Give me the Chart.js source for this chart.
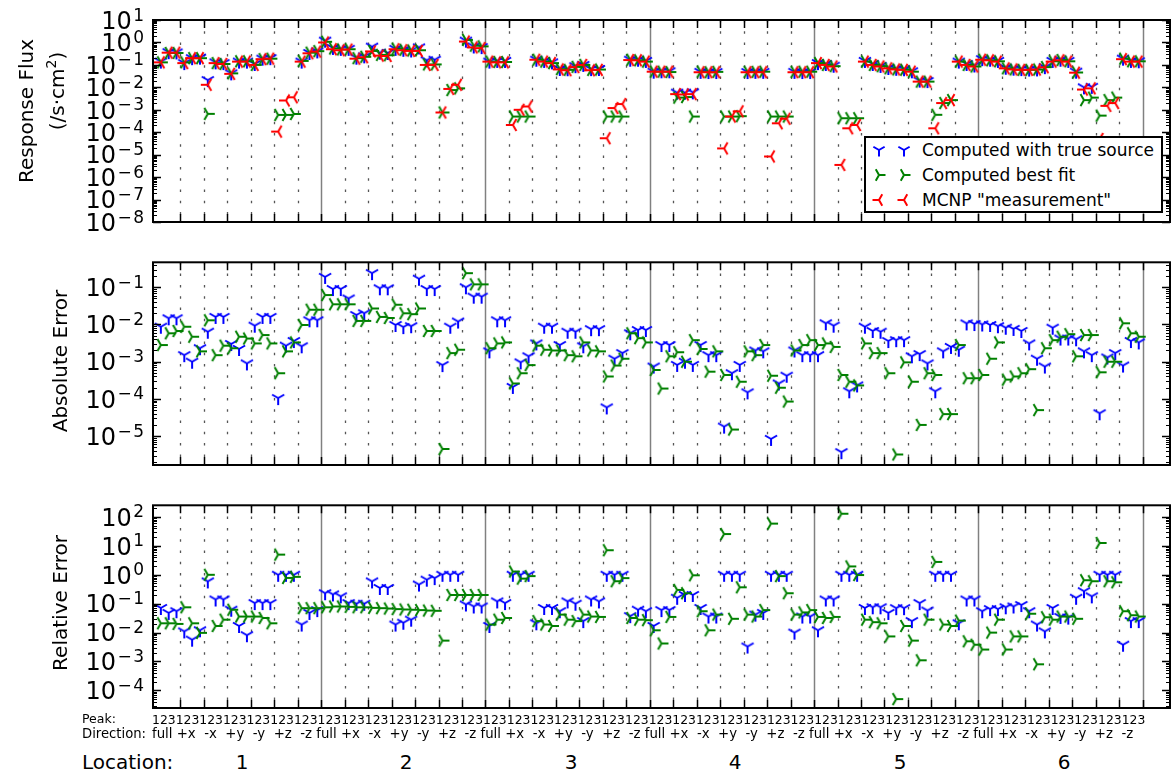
<!DOCTYPE html>
<html>
<head>
<meta charset="utf-8">
<script src="https://cdn.jsdelivr.net/npm/chart.js@4.4.1/dist/chart.umd.min.js"></script>
<style>
  html, body { margin: 0; padding: 0; background: #fff; }
  body { width: 1174px; height: 772px; overflow: hidden; position: relative; font-family: 'DejaVu Sans', sans-serif; color: #000; }
  canvas.panel { position: absolute; left: 0; }
  .txt { position: absolute; white-space: pre; line-height: 1; }
  .ytitle { position: absolute; white-space: nowrap; font-size: 20px; line-height: 1; transform: translate(-50%, -50%) rotate(-90deg); }
  .ytitle sup { font-size: 14px; vertical-align: 8px; line-height: 0; }
  #legend { position: absolute; left: 864px; top: 136px; width: 299px; height: 77px; box-sizing: border-box; border: 2px solid #000; background: #fff; }
  .leg-row { position: absolute; left: 0; width: 100%; height: 20px; }
  .leg-row canvas { position: absolute; top: 1px; }
  .leg-row span { position: absolute; left: 56px; top: 0; font-size: 17px; line-height: 20px; white-space: nowrap; }
</style>
</head>
<body>
<canvas class="panel" id="fluxChart" width="1176" height="240" style="top:0px"></canvas>
<canvas class="panel" id="absChart" width="1176" height="245" style="top:240px"></canvas>
<canvas class="panel" id="relChart" width="1176" height="235" style="top:485px"></canvas>

<div class="ytitle" style="left:26px; top:111px">Response Flux</div>
<div class="ytitle" style="left:57px; top:91px">(/s·cm<sup>2</sup>)</div>
<div class="ytitle" style="left:60px; top:361px">Absolute Error</div>
<div class="ytitle" style="left:60px; top:603px">Relative Error</div>

<div id="legend"></div>

<div class="txt" style="left:82px; top:713px; font-size:12.5px">Peak:</div>
<div class="txt" id="peakRow" style="left:152px; top:714px; font-size:12.4px"></div>
<div class="txt" style="left:82px; top:727px; font-size:13.2px">Direction:</div>
<div class="txt" id="dirRow" style="left:152px; top:727px; font-size:13.3px"></div>
<div class="txt" style="left:82px; top:752px; font-size:20px">Location:</div>
<div id="locRow"></div>

<script>
// categories
const locations = ['1', '2', '3', '4', '5', '6'];
const directions = ['full', '+x', '-x', '+y', '-y', '+z', '-z'];
const peaks = ['1', '2', '3'];

// tick values of the three log axes
const fluxTicks = [1e-8, 1e-7, 1e-6, 1e-5, 1e-4, 1e-3, 1e-2, 1e-1, 1e0, 1e1];
const absTicks = [1e-5, 1e-4, 1e-3, 1e-2, 1e-1];
const relTicks = [1e-4, 1e-3, 1e-2, 1e-1, 1e0, 1e1, 1e2];

// Response flux, one row per location (7 directions x 3 peaks)
const fluxTrue = [
  0.14, 0.37, 0.36, 0.12, 0.2, 0.21, 0.021, 0.13, 0.12, 0.042, 0.14, 0.14, 0.11, 0.19, 0.2, null, null, null, 0.14, 0.34, 0.4,
  1.2, 0.57, 0.52, 0.52, 0.21, 0.24, 0.65, 0.35, 0.34, 0.52, 0.47, 0.44, 0.6, 0.16, 0.17, null, null, null, 1.2, 0.66, 0.62,
  0.14, 0.15, 0.15, null, null, null, 0.17, 0.15, 0.13, 0.066, 0.064, 0.088, 0.1, 0.065, 0.066, null, null, null, 0.17, 0.17, 0.15,
  0.05, 0.052, 0.052, 5.8e-3, 5.8e-3, 6e-3, 0.049, 0.048, 0.048, null, null, null, 0.048, 0.049, 0.049, null, null, null, 0.049, 0.048, 0.048,
  0.12, 0.11, 0.092, null, null, null, 0.15, 0.11, 0.09, 0.073, 0.067, 0.064, 0.052, 0.02, 0.019, null, null, null, 0.14, 0.11, 0.094,
  0.18, 0.17, 0.15, 0.075, 0.068, 0.065, 0.062, 0.063, 0.079, 0.15, 0.17, 0.15, 0.05, 0.01, 0.0105, null, null, null, 0.19, 0.15, 0.145
];
const fluxFit = [
  0.13, 0.34, 0.34, 0.13, 0.2, 0.2, 6.6e-4, 0.12, 0.11, 0.042, 0.145, 0.145, 0.1, 0.18, 0.19, 5.9e-4, 5.9e-4, 6.5e-4, 0.15, 0.35, 0.41,
  1.07, 0.54, 0.49, 0.5, 0.2, 0.23, 0.42, 0.28, 0.27, 0.53, 0.47, 0.44, 0.45, 0.105, 0.105, 7.6e-4, 7.6e-3, 9e-3, 1.3, 0.72, 0.67,
  0.14, 0.135, 0.135, 5e-4, 5e-4, 5e-4, 0.17, 0.14, 0.12, 0.065, 0.06, 0.082, 0.1, 0.06, 0.062, 5e-4, 5e-4, 5e-4, 0.17, 0.16, 0.14,
  0.05, 0.05, 0.048, 3.5e-3, 3.7e-3, 5e-4, 0.05, 0.047, 0.049, 5e-4, 5e-4, 5.2e-4, 0.049, 0.049, 0.05, 5e-4, 5e-4, 5e-4, 0.049, 0.05, 0.05,
  0.12, 0.1, 0.088, 4.2e-4, 4.2e-4, 4.2e-4, 0.14, 0.1, 0.087, 0.07, 0.063, 0.061, 0.05, 0.018, 0.018, 6e-4, 2e-3, 2.7e-3, 0.14, 0.1, 0.085,
  0.17, 0.16, 0.145, 0.07, 0.063, 0.06, 0.06, 0.062, 0.08, 0.145, 0.165, 0.145, 0.046, 2.7e-3, 3.5e-3, 5.5e-4, 2.7e-3, 3.5e-3, 0.19, 0.145, 0.145
];
const fluxMcnp = [
  0.13, 0.35, 0.35, 0.12, 0.2, 0.2, 0.013, 0.12, 0.11, 0.04, 0.14, 0.14, 0.1, 0.18, 0.19, 1.07e-4, 2.6e-3, 3.6e-3, 0.14, 0.33, 0.39,
  1.0, 0.5, 0.45, 0.48, 0.19, 0.22, 0.4, 0.26, 0.25, 0.5, 0.45, 0.42, 0.42, 0.1, 0.1, 7.6e-4, 8.5e-3, 0.013, 1.1, 0.6, 0.56,
  0.14, 0.13, 0.13, 2.1e-4, 1e-3, 1.4e-3, 0.17, 0.14, 0.12, 0.063, 0.058, 0.08, 0.1, 0.058, 0.06, 5.4e-5, 1.2e-3, 1.8e-3, 0.165, 0.16, 0.14,
  0.05, 0.05, 0.05, 5e-3, 4.8e-3, 5e-3, 0.047, 0.047, 0.047, 1.9e-5, 5e-4, 8.5e-4, 0.047, 0.047, 0.047, 8.3e-6, 2.5e-4, 4e-4, 0.047, 0.047, 0.047,
  0.12, 0.1, 0.085, 3.5e-6, 1.5e-4, 2.1e-4, 0.14, 0.1, 0.085, 0.07, 0.063, 0.06, 0.05, 0.018, 0.018, 1.5e-4, 2e-3, 2.7e-3, 0.14, 0.1, 0.085,
  0.17, 0.16, 0.14, 0.07, 0.063, 0.06, 0.06, 0.062, 0.078, 0.14, 0.16, 0.14, 0.045, 8e-3, 9e-3, 5e-5, 1.5e-3, 2e-3, 0.18, 0.14, 0.14
];

// Absolute error
const absTrue = [
  8.7e-3, 0.0147, 0.0147, 1.5e-3, 1.0e-3, 2.3e-3, 6.4e-3, 0.016, 0.016, 3e-3, 2.2e-3, 9e-4, 9.3e-3, 0.016, 0.016, 1.05e-4, 2.7e-3, 3.6e-3, 2.6e-3, 0.013, 0.013,
  0.19, 0.09, 0.09, 0.05, 0.018, 0.02, 0.24, 0.094, 0.094, 9.7e-3, 8.5e-3, 9e-3, 0.17, 0.09, 0.09, 8.1e-4, 8.7e-3, 0.012, 0.1, 0.056, 0.056,
  1.9e-3, 0.013, 0.013, 2.1e-4, 9.6e-4, 1.4e-3, 3.1e-3, 8.7e-3, 8.7e-3, 2.8e-3, 6.4e-3, 6.4e-3, 2.6e-3, 7.5e-3, 7.5e-3, 5.9e-5, 1.2e-3, 1.7e-3, 5.8e-3, 7.1e-3, 7.1e-3,
  7.4e-4, 2.8e-3, 2.8e-3, 8.2e-4, 1e-3, 8.2e-4, 2.8e-3, 1.5e-3, 1.5e-3, 1.8e-5, 4.9e-4, 8.2e-4, 1.5e-4, 2e-3, 1.9e-3, 8.4e-6, 2.6e-4, 4.2e-4, 2e-3, 1.5e-3, 1.5e-3,
  1.5e-3, 0.0108, 9.3e-3, 3.7e-6, 1.6e-4, 2.3e-4, 8.7e-3, 6.7e-3, 6.4e-3, 3.6e-3, 3.8e-3, 3.8e-3, 1.4e-3, 1.6e-3, 9e-4, 1.6e-4, 1.9e-3, 2.5e-3, 2.1e-3, 0.0107, 0.0103,
  0.01, 9.7e-3, 9e-3, 8.2e-3, 7.6e-3, 6.7e-3, 3.1e-3, 1.2e-3, 7.4e-4, 8.2e-3, 4.2e-3, 4.2e-3, 4e-3, 1.9e-3, 1.5e-3, 4.1e-5, 1.3e-3, 1.7e-3, 7.9e-4, 3.6e-3, 3.3e-3
];
const absFit = [
  2.8e-3, 5.8e-3, 6.7e-3, 8.7e-3, 4.7e-3, 1.9e-3, 0.013, 1.5e-3, 2.7e-3, 2.3e-3, 4.7e-3, 4.2e-3, 3.1e-3, 5.2e-3, 3.1e-3, 4.9e-4, 1.9e-3, 3.3e-3, 9.7e-3, 0.025, 0.025,
  0.062, 0.035, 0.035, 0.035, 0.0125, 0.0125, 0.027, 0.016, 0.015, 0.034, 0.02, 0.019, 0.027, 6.7e-3, 6.7e-3, 4.5e-6, 1.7e-3, 2.1e-3, 0.24, 0.12, 0.12,
  2.3e-3, 3.1e-3, 3.3e-3, 2.6e-4, 4.9e-4, 8.1e-4, 2.7e-3, 2.1e-3, 2e-3, 2e-3, 1.5e-3, 1.4e-3, 3.3e-3, 2e-3, 1.9e-3, 4e-4, 7.9e-4, 1.2e-3, 5.8e-3, 4.3e-3, 3.3e-3,
  6e-4, 1.9e-4, 1.4e-3, 1.8e-3, 1e-3, 3.8e-3, 2.2e-3, 5.4e-4, 1.9e-3, 4.4e-4, 1.5e-5, 2.9e-4, 1.9e-3, 1.5e-3, 2.8e-3, 4.2e-4, 2e-4, 8.5e-5, 2e-3, 2.8e-3, 3.8e-3,
  2.8e-3, 3.1e-3, 2.5e-3, 4.4e-4, 2.9e-4, 2.3e-4, 3.1e-3, 1.7e-3, 1.7e-3, 4.9e-4, 3.2e-6, 9.6e-4, 2.9e-4, 2e-5, 4.9e-4, 4.4e-4, 3.9e-5, 3.9e-5, 2.8e-3, 3.6e-4, 3.6e-4,
  4.4e-4, 1.2e-3, 3.3e-3, 3.3e-4, 4e-4, 4.9e-4, 6.3e-4, 5e-5, 2.3e-3, 3.8e-3, 4.7e-3, 5.5e-3, 1.4e-3, 5.2e-3, 5.2e-3, 5.2e-4, 1e-3, 1e-3, 0.0108, 5.8e-3, 4.7e-3
];

// Relative error
const relTrue = [
  0.071, 0.048, 0.055, 0.011, 5.7e-3, 0.012, 0.59, 0.14, 0.14, 0.062, 0.017, 8.1e-3, 0.105, 0.105, 0.105, 1, 1, 1, 0.019, 0.048, 0.06,
  0.23, 0.21, 0.18, 0.105, 0.1, 0.1, 0.59, 0.35, 0.35, 0.019, 0.022, 0.028, 0.46, 0.68, 0.77, 1, 1, 1, 0.094, 0.08, 0.08,
  0.017, 0.12, 0.105, 1, 1, 1, 0.021, 0.071, 0.071, 0.055, 0.12, 0.1, 0.025, 0.14, 0.12, 1, 1, 1, 0.037, 0.062, 0.055,
  0.017, 0.06, 0.06, 0.16, 0.2, 0.2, 0.071, 0.036, 0.036, 1, 1, 1, 3.3e-3, 0.042, 0.048, 1, 1, 1, 0.01, 0.036, 0.036,
  0.012, 0.14, 0.14, 1, 1, 1, 0.071, 0.075, 0.075, 0.048, 0.07, 0.07, 0.025, 0.105, 0.058, 1, 1, 1, 0.021, 0.14, 0.14,
  0.055, 0.065, 0.065, 0.075, 0.08, 0.09, 0.055, 0.019, 0.011, 0.071, 0.035, 0.033, 0.16, 0.27, 0.18, 1, 1, 1, 3.8e-3, 0.025, 0.025
];
const relFit = [
  0.021, 0.021, 0.02, 0.075, 0.021, 9.8e-3, 1.0, 0.017, 0.028, 0.062, 0.036, 0.036, 0.036, 0.032, 0.021, 5.0, 0.78, 0.85, 0.07, 0.07, 0.07,
  0.075, 0.08, 0.08, 0.078, 0.075, 0.075, 0.072, 0.07, 0.068, 0.065, 0.063, 0.062, 0.06, 0.058, 0.057, 5.3e-3, 0.2, 0.2, 0.2, 0.2, 0.2,
  0.019, 0.028, 0.032, 1.3, 0.74, 0.9, 0.025, 0.019, 0.017, 0.042, 0.028, 0.025, 0.042, 0.036, 0.035, 7.1, 0.6, 0.77, 0.032, 0.028, 0.027,
  0.012, 4.2e-3, 0.035, 0.3, 0.23, 0.96, 0.055, 0.012, 0.042, 25.7, 0.03, 0.37, 0.042, 0.036, 0.06, 59, 0.9, 0.23, 0.042, 0.05, 0.06,
  0.035, 0.032, 0.035, 130, 1.95, 0.98, 0.028, 0.023, 0.021, 7.4e-3, 5e-5, 0.017, 5.3e-3, 1.1e-3, 0.028, 2.8, 0.019, 0.017, 0.026, 5e-3, 3.8e-3,
  2.6e-3, 0.01, 0.028, 2.6e-3, 7.4e-3, 7.4e-3, 0.045, 8e-4, 0.034, 0.028, 0.036, 0.036, 0.03, 0.65, 0.6, 12.6, 0.6, 0.55, 0.055, 0.04, 0.036
];

const BLUE = '#0000ff', GREEN = '#008000', RED = '#ff0000';
const nPerLoc = directions.length * peaks.length;
const nCat = locations.length * nPerLoc;

// matplotlib-like tri markers drawn once on small canvases
function triMarker(dir, color, r) {
  const s = 20;
  const c = document.createElement('canvas');
  c.width = s; c.height = s;
  const g = c.getContext('2d');
  g.strokeStyle = color;
  g.lineWidth = 2;
  const arms = { down: [90, 210, 330], right: [0, 120, 240], left: [180, 300, 60] }[dir];
  g.beginPath();
  arms.forEach(function (a) {
    const t = a * Math.PI / 180;
    g.moveTo(s / 2, s / 2);
    g.lineTo(s / 2 + r * Math.cos(t), s / 2 + r * Math.sin(t));
  });
  g.stroke();
  return c;
}
const markTrue = triMarker('down', BLUE, 7);
const markFit = triMarker('right', GREEN, 7);
const markMcnp = triMarker('left', RED, 7);

function series(label, values, marker, order) {
  return {
    label: label,
    data: values.map(function (v, i) { return { x: i, y: v }; }),
    pointStyle: marker,
    pointRadius: 5,
    order: order
  };
}

// dotted direction lines, solid location lines, inward ticks, frame and 10^n labels
const panelDecor = {
  id: 'panelDecor',
  beforeDatasetsDraw(chart) {
    const ctx = chart.ctx, a = chart.chartArea, x = chart.scales.x;
    ctx.save();
    for (let k = 1; k <= nCat / peaks.length; k++) {
      const px = Math.round(x.getPixelForValue(peaks.length * k - 0.5)) + 0.5;
      const solid = k % directions.length === 0;
      ctx.strokeStyle = solid ? '#808080' : '#555555';
      ctx.lineWidth = solid ? 1.5 : 1.3;
      ctx.setLineDash(solid ? [] : [2.5, 8.8]);
      ctx.beginPath();
      ctx.moveTo(px, a.top);
      ctx.lineTo(px, a.bottom);
      ctx.stroke();
    }
    ctx.restore();
  },
  afterDatasetsDraw(chart) {
    const ctx = chart.ctx, a = chart.chartArea, x = chart.scales.x, y = chart.scales.y;
    ctx.save();
    ctx.strokeStyle = '#000';
    ctx.lineWidth = 1.5;
    ctx.beginPath();
    for (let k = 1; k <= nCat / peaks.length; k++) {
      const px = Math.round(x.getPixelForValue(peaks.length * k - 0.5)) + 0.5;
      ctx.moveTo(px, a.top); ctx.lineTo(px, a.top + 8);
      ctx.moveTo(px, a.bottom); ctx.lineTo(px, a.bottom - 8);
    }
    ctx.stroke();
    const lo = Math.floor(Math.log10(y.min)), hi = Math.ceil(Math.log10(y.max));
    for (let d = lo; d <= hi; d++) {
      for (let m = 1; m <= 9; m++) {
        const v = m * Math.pow(10, d);
        if (v < y.min * 0.999 || v > y.max * 1.001) continue;
        const py = Math.round(y.getPixelForValue(v)) + 0.5;
        const len = m === 1 ? 8 : 4;
        ctx.lineWidth = m === 1 ? 1.5 : 1;
        ctx.beginPath();
        ctx.moveTo(a.left, py); ctx.lineTo(a.left + len, py);
        ctx.moveTo(a.right, py); ctx.lineTo(a.right - len, py);
        ctx.stroke();
      }
    }
    ctx.lineWidth = 2;
    ctx.strokeRect(a.left, a.top, a.right - a.left, a.bottom - a.top);

    // tick labels 10^n with a raised exponent, spaced like mathtext
    ctx.fillStyle = '#000';
    ctx.textAlign = 'right';
    ctx.textBaseline = 'alphabetic';
    y.ticks.forEach(function (t) {
      const py = y.getPixelForValue(t.value);
      const e = Math.round(Math.log10(t.value));
      let xr = a.left - 9;
      ctx.font = '17px "DejaVu Sans"';
      const digits = String(Math.abs(e));
      ctx.fillText(digits, xr, py + 0.5);
      xr -= ctx.measureText(digits).width;
      if (e < 0) {
        xr -= 1.5;
        ctx.fillText('\u2212', xr, py + 0.5);
        xr -= ctx.measureText('\u2212').width;
      }
      xr -= 1.5;
      ctx.font = '24px "DejaVu Sans"';
      ctx.fillText('10', xr, py + 8.8);
    });
    ctx.restore();
  }
};

function makePanel(id, pad, yMin, yMax, ticks, datasets) {
  return new Chart(document.getElementById(id), {
    type: 'scatter',
    data: { datasets: datasets },
    options: {
      responsive: false,
      animation: false,
      events: [],
      layout: { padding: pad },
      plugins: { legend: { display: false }, tooltip: { enabled: false } },
      scales: {
        x: { type: 'linear', min: -1, max: 129, display: false },
        y: {
          type: 'logarithmic',
          min: yMin,
          max: yMax,
          afterFit: function (s) { s.width = 153; },
          afterBuildTicks: function (s) { s.ticks = ticks.map(function (v) { return { value: v }; }); },
          grid: { display: false, drawTicks: false },
          border: { display: false },
          ticks: { display: false }
        }
      }
    },
    plugins: [panelDecor]
  });
}

makePanel('fluxChart', { left: 0, right: 3, top: 20, bottom: 18 }, 1e-8, 10, fluxTicks, [
  series('Computed with true source', fluxTrue, markTrue, 2),
  series('Computed best fit', fluxFit, markFit, 1),
  series('MCNP "measurement"', fluxMcnp, markMcnp, 0)
]);
makePanel('absChart', { left: 0, right: 3, top: 22.3, bottom: 20 }, 1.67e-6, 0.47, absTicks, [
  series('Computed with true source', absTrue, markTrue, 1),
  series('Computed best fit', absFit, markFit, 0)
]);
makePanel('relChart', { left: 0, right: 3, top: 20.3, bottom: 12 }, 2.46e-5, 254, relTicks, [
  series('Computed with true source', relTrue, markTrue, 1),
  series('Computed best fit', relFit, markFit, 0)
]);

// legend box
const legendEntries = [
  ['Computed with true source', BLUE, 'down'],
  ['Computed best fit', GREEN, 'right'],
  ['MCNP "measurement"', RED, 'left']
];
const legend = document.getElementById('legend');
legendEntries.forEach(function (e, n) {
  const row = document.createElement('div');
  row.className = 'leg-row';
  row.style.top = (2 + n * 25) + 'px';
  [3, 28].forEach(function (lx) {
    const m = triMarker(e[2], e[1], 6.5);
    m.style.left = lx + 'px';
    m.style.top = '0px';
    row.appendChild(m);
  });
  const t = document.createElement('span');
  t.textContent = e[0];
  row.appendChild(t);
  legend.appendChild(row);
});

// category text rows under the plots
document.getElementById('peakRow').textContent = locations.map(function () {
  return directions.map(function () { return peaks.join(''); }).join('');
}).join('');
document.getElementById('dirRow').textContent = locations.map(function () {
  return directions.map(function (d, j) { return j === 0 ? d + ' ' : d + (j < directions.length - 1 ? '  ' : ' '); }).join('');
}).join('');
const locRow = document.getElementById('locRow');
const locCenters = [242, 406, 571, 735, 900, 1064];
locations.forEach(function (l, n) {
  const d = document.createElement('div');
  d.className = 'txt';
  d.style.fontSize = '20px';
  d.style.top = '752px';
  d.style.left = locCenters[n] + 'px';
  d.style.transform = 'translateX(-50%)';
  d.textContent = l;
  locRow.appendChild(d);
});
</script>
</body>
</html>
